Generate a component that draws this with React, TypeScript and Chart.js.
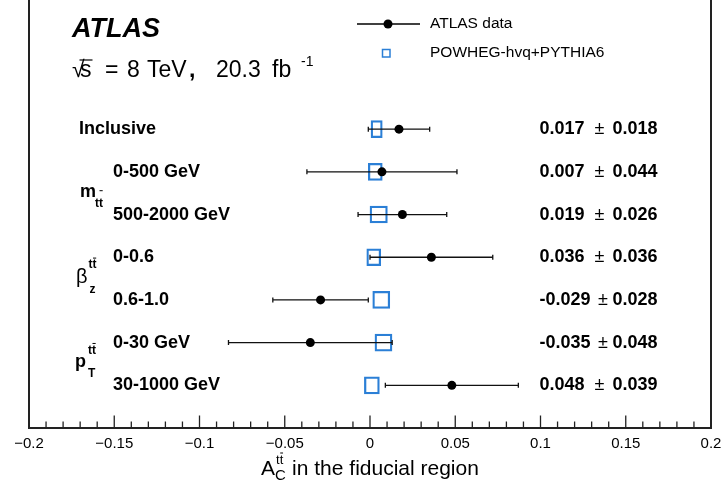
import React, { useEffect, useRef } from 'react';
import { Chart, registerables } from 'chart.js';

Chart.register(...registerables);

const categories = ['Inclusive', '0-500 GeV', '500-2000 GeV', '0-0.6', '0.6-1.0', '0-30 GeV', '30-1000 GeV'];
const isSubRow = [false, true, true, true, true, true, true];
const dataValues = [0.017, 0.007, 0.019, 0.036, -0.029, -0.035, 0.048];
const dataErrors = [0.018, 0.044, 0.026, 0.036, 0.028, 0.048, 0.039];
const predCenters = [0.0039, 0.0031, 0.0051, 0.0022, 0.0066, 0.0079, 0.0011];
const predHalfWidths = [0.0033, 0.0041, 0.0051, 0.0041, 0.005, 0.005, 0.0044];
const valueTexts = ['0.017', '0.007', '0.019', '0.036', '-0.029', '-0.035', '0.048'];
const errorTexts = ['0.018', '0.044', '0.026', '0.036', '0.028', '0.048', '0.039'];
const xTickValues = [-0.2, -0.15, -0.1, -0.05, 0, 0.05, 0.1, 0.15, 0.2];
const xTickLabels = ['\u22120.2', '\u22120.15', '\u22120.1', '\u22120.05', '0', '0.05', '0.1', '0.15', '0.2'];
const minorTickStep = 0.01;
const legendLabels = ['ATLAS data', 'POWHEG-hvq+PYTHIA6'];

const FONT = '"Liberation Sans", Arial, Helvetica, sans-serif';
const BLUE = '#2b7fd6';

function drawTtbar(ctx: CanvasRenderingContext2D, x: number, baseline: number, barOffset: number, size = 12, bold = true) {
  ctx.font = `${bold ? 'bold ' : ''}${size}px ${FONT}`;
  ctx.textBaseline = 'alphabetic';
  ctx.textAlign = 'left';
  ctx.fillText('tt', x, baseline);
  const tw = ctx.measureText('t').width;
  ctx.save();
  ctx.lineWidth = 1;
  ctx.beginPath();
  ctx.moveTo(x + tw + 0.5, baseline - barOffset);
  ctx.lineTo(x + 2 * tw - 0.3, baseline - barOffset);
  ctx.stroke();
  ctx.restore();
}

const decorPlugin = {
  id: 'atlasDecor',
  beforeDatasetDraw(chart: any, args: any) {
    if (args.index !== 0) return;
    const { ctx, scales } = chart;
    const x = scales.x;
    const y = scales.y;
    ctx.save();
    ctx.strokeStyle = '#111';
    ctx.lineWidth = 1.3;
    dataValues.forEach((v, i) => {
      const yy = y.getPixelForValue(i);
      const x1 = x.getPixelForValue(v - dataErrors[i]);
      const x2 = x.getPixelForValue(v + dataErrors[i]);
      ctx.beginPath();
      ctx.moveTo(x1, yy);
      ctx.lineTo(x2, yy);
      ctx.moveTo(x1, yy - 2.5);
      ctx.lineTo(x1, yy + 2.5);
      ctx.moveTo(x2, yy - 2.5);
      ctx.lineTo(x2, yy + 2.5);
      ctx.stroke();
    });
    ctx.restore();
  },
  afterDraw(chart: any) {
    const { ctx, chartArea, scales } = chart;
    const x = scales.x;
    const y = scales.y;
    const { left, right, bottom } = chartArea;
    ctx.save();
    ctx.fillStyle = '#000';
    ctx.strokeStyle = '#000';

    // ticks (inward)
    ctx.lineWidth = 1.3;
    ctx.strokeStyle = '#222';
    const nMinor = Math.round((x.max - x.min) / minorTickStep);
    for (let k = 0; k <= nMinor; k++) {
      const v = x.min + k * minorTickStep;
      const px = x.getPixelForValue(v);
      const major = k % 5 === 0;
      ctx.beginPath();
      ctx.moveTo(px, bottom);
      ctx.lineTo(px, bottom - (major ? 12.5 : 6.5));
      ctx.stroke();
    }

    // frame
    ctx.lineWidth = 2;
    ctx.strokeStyle = '#222';
    ctx.beginPath();
    ctx.moveTo(left, 0);
    ctx.lineTo(left, bottom);
    ctx.lineTo(right, bottom);
    ctx.lineTo(right, 0);
    ctx.stroke();

    // axis title
    ctx.fillStyle = '#000';
    ctx.strokeStyle = '#000';
    ctx.textBaseline = 'alphabetic';
    ctx.textAlign = 'left';
    const titleBase = 475;
    ctx.font = `21px ${FONT}`;
    const restText = 'in the fiducial region';
    const wA = ctx.measureText('A').width;
    const wRest = ctx.measureText(restText).width;
    const scriptW = 17;
    const totalW = wA + scriptW + wRest;
    const tx = (left + right) / 2 - totalW / 2;
    ctx.fillText('A', tx, titleBase);
    ctx.font = `15px ${FONT}`;
    ctx.fillText('C', tx + wA, titleBase + 5);
    drawTtbar(ctx, tx + wA + 1, titleBase - 11, 11, 13, false);
    ctx.font = `21px ${FONT}`;
    ctx.fillText(restText, tx + wA + scriptW, titleBase);

    // ATLAS label
    ctx.font = `italic bold 27px ${FONT}`;
    ctx.fillText('ATLAS', left + 43, 37);
    ctx.font = `23px ${FONT}`;
    const sx = left + 43;
    const sBase = 77;
    ctx.fillText('\u221A', sx, sBase);
    ctx.fillText('s', sx + 8, sBase);
    const wS = ctx.measureText('s').width;
    ctx.lineWidth = 1.2;
    ctx.beginPath();
    ctx.moveTo(sx + 7.5, sBase - 17);
    ctx.lineTo(sx + 8 + wS + 1, sBase - 17);
    ctx.stroke();
    ctx.fillText('=', sx + 33, sBase);
    ctx.fillText('8', sx + 55, sBase);
    ctx.fillText('TeV', sx + 75, sBase);
    ctx.font = `bold 23px ${FONT}`;
    ctx.fillText(',', sx + 117, sBase);
    ctx.font = `23px ${FONT}`;
    ctx.fillText('20.3', sx + 144, sBase);
    ctx.fillText('fb', sx + 200, sBase);
    ctx.font = `14px ${FONT}`;
    ctx.fillText('-1', sx + 229, sBase - 11);

    // legend
    ctx.lineWidth = 1.3;
    ctx.strokeStyle = '#000';
    ctx.beginPath();
    ctx.moveTo(357, 24);
    ctx.lineTo(420, 24);
    ctx.stroke();
    ctx.beginPath();
    ctx.arc(388, 24, 4.5, 0, Math.PI * 2);
    ctx.fill();
    ctx.strokeStyle = BLUE;
    ctx.lineWidth = 1.5;
    ctx.strokeRect(382.5, 49.5, 7.5, 7.5);
    ctx.fillStyle = '#000';
    ctx.font = `15.5px ${FONT}`;
    ctx.textBaseline = 'middle';
    ctx.fillText(legendLabels[0], 430, 24);
    ctx.fillText(legendLabels[1], 430, 53);

    // row labels and values
    const valX = x.getPixelForValue(0.1) - 1;
    categories.forEach((c, i) => {
      const yy = y.getPixelForValue(i);
      ctx.font = `bold 18px ${FONT}`;
      ctx.textBaseline = 'middle';
      ctx.fillText(c, left + (isSubRow[i] ? 84 : 50), yy);
      ctx.fillText(valueTexts[i], valX, yy);
      const wv = ctx.measureText(valueTexts[i]).width;
      ctx.fillText(errorTexts[i], valX + 73, yy);
      ctx.font = `18px ${FONT}`;
      ctx.fillText('\u00B1', Math.min(valX + wv + 10, valX + 58.5), yy);
    });

    // group labels
    ctx.textBaseline = 'alphabetic';
    ctx.strokeStyle = '#000';
    const mid = (a: number, b: number) => (y.getPixelForValue(a) + y.getPixelForValue(b)) / 2;
    {
      const base = mid(1, 2) + 3.5;
      ctx.font = `bold 18px ${FONT}`;
      ctx.fillText('m', left + 51, base);
      const w = ctx.measureText('m').width;
      drawTtbar(ctx, left + 51 + w - 1, base + 10, 16);
    }
    {
      const base = mid(3, 4) + 4.5;
      ctx.font = `20px ${FONT}`;
      ctx.fillText('\u03B2', left + 47, base);
      const w = ctx.measureText('\u03B2').width;
      drawTtbar(ctx, left + 47 + w + 1, base - 15, 10);
      ctx.font = `bold 12px ${FONT}`;
      ctx.fillText('z', left + 47 + w + 2, base + 10);
    }
    {
      const base = mid(5, 6) + 3.5;
      ctx.font = `bold 18px ${FONT}`;
      ctx.fillText('p', left + 46, base);
      const w = ctx.measureText('p').width;
      drawTtbar(ctx, left + 46 + w + 2, base - 13, 11);
      ctx.font = `bold 12px ${FONT}`;
      ctx.fillText('T', left + 46 + w + 2, base + 10);
    }
    ctx.restore();
  },
};

export default function App() {
  const canvasRef = useRef<HTMLCanvasElement | null>(null);

  useEffect(() => {
    if (!canvasRef.current) return;
    const chart = new Chart(canvasRef.current, {
      type: 'scatter',
      data: {
        datasets: [
          {
            type: 'scatter',
            label: legendLabels[0],
            data: dataValues.map((v, i) => ({ x: v, y: i })),
            pointRadius: 4.5,
            pointStyle: 'circle',
            backgroundColor: '#000',
            borderColor: '#000',
            borderWidth: 0,
          } as any,
          {
            type: 'bar',
            label: legendLabels[1],
            indexAxis: 'y',
            data: predCenters.map((c, i) => ({ x: [c - predHalfWidths[i], c + predHalfWidths[i]], y: i })),
            backgroundColor: 'rgba(0,0,0,0)',
            borderColor: BLUE,
            borderWidth: 1.6,
            borderSkipped: false,
            barThickness: 17,
          } as any,
        ],
      },
      options: {
        animation: false,
        responsive: false,
        events: [],
        layout: { padding: { left: 29, right: 12, top: 0, bottom: 0 } },
        plugins: {
          legend: { display: false },
          tooltip: { enabled: false },
          title: { display: false },
        },
        scales: {
          x: {
            type: 'linear',
            min: -0.2,
            max: 0.2,
            offset: false,
            grid: { display: false, drawTicks: false },
            border: { display: false },
            afterBuildTicks: (scale: any) => {
              scale.ticks = xTickValues.map((v) => ({ value: v }));
            },
            afterFit: (scale: any) => {
              scale.height = 62;
              scale.paddingLeft = 0;
              scale.paddingRight = 0;
              scale.paddingTop = 0;
              scale.paddingBottom = 0;
            },
            ticks: {
              autoSkip: false,
              maxRotation: 0,
              padding: 7,
              color: '#000',
              font: { family: FONT, size: 15 },
              callback: (_v: any, idx: number) => xTickLabels[idx],
            },
          },
          y: {
            type: 'linear',
            reverse: true,
            offset: false,
            min: -2.92,
            max: 7,
            display: false,
            afterFit: (scale: any) => {
              scale.paddingTop = 0;
              scale.paddingBottom = 0;
            },
          },
        },
      } as any,
      plugins: [decorPlugin],
    });
    return () => chart.destroy();
  }, []);

  return (
    <div style={{ position: 'absolute', left: 0, top: 0, width: 723, height: 490, background: '#fff' }}>
      <canvas ref={canvasRef} width={723} height={490} style={{ display: 'block' }} />
    </div>
  );
}
